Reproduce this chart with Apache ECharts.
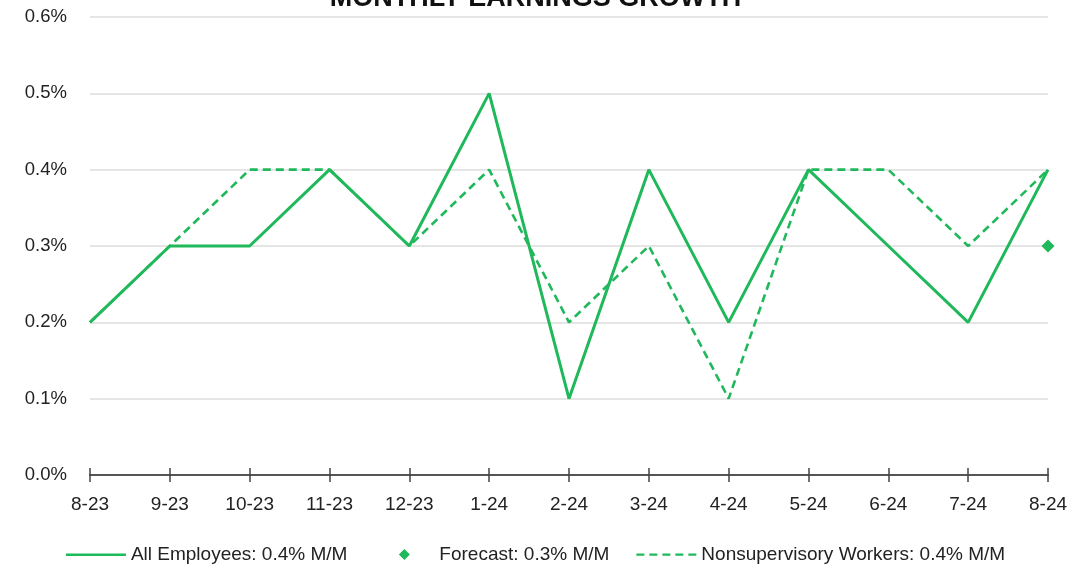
<!DOCTYPE html>
<html>
<head>
<meta charset="utf-8">
<script src="https://cdn.jsdelivr.net/npm/echarts@6/dist/echarts.min.js"></script>
<style>
  html, body { margin: 0; padding: 0; background: #fff; }
  #chart { width: 1071px; height: 572px; }
</style>
</head>
<body>
<div id="chart"></div>
<script>
// Month labels (M-YY)
const months = ['8-23', '9-23', '10-23', '11-23', '12-23', '1-24', '2-24', '3-24', '4-24', '5-24', '6-24', '7-24', '8-24'];
// Month-over-month growth, percent
const allEmployees = [0.2, 0.3, 0.3, 0.4, 0.3, 0.5, 0.1, 0.4, 0.2, 0.4, 0.3, 0.2, 0.4];
const nonsupervisory = [0.2, 0.3, 0.4, 0.4, 0.3, 0.4, 0.2, 0.3, 0.1, 0.4, 0.4, 0.3, 0.4];
const forecast = ['-', '-', '-', '-', '-', '-', '-', '-', '-', '-', '-', '-', 0.3];
// Y axis range
const yMin = 0, yMax = 0.6, yStep = 0.1;

const GREEN = '#1fb85a';
const FONT = '"Liberation Sans", Arial, sans-serif';

// Legend icons drawn inside a 60x12 box; the zero-length corner segments keep the box size
const BOX = 'M0,0L0.01,0M60,12L59.99,12';
const ICON_SOLID = 'path://' + BOX + 'M0,5H60V7.6H0Z';
const ICON_DASHED = 'path://' + BOX +
  'M0,5H8V7.2H0Z M13,5H21V7.2H13Z M26,5H34V7.2H26Z M39,5H47V7.2H39Z M52,5H60V7.2H52Z';
const ICON_DIAMOND = 'path://' + BOX + 'M30,0.5L35.5,6L30,11.5L24.5,6Z';

const chart = echarts.init(document.getElementById('chart'), null, { renderer: 'canvas' });

const axisCommon = {
  type: 'category',
  data: months,
  boundaryGap: false,
  position: 'bottom'
};

chart.setOption({
  animation: false,
  textStyle: { fontFamily: FONT },
  title: {
    text: 'MONTHLY EARNINGS GROWTH',
    left: 'center',
    top: -20,
    textStyle: { fontFamily: FONT, fontSize: 27, fontWeight: 'bold', color: '#111' }
  },
  grid: { left: 90, right: 23, top: 17, bottom: 97, containLabel: false },
  legend: {
    bottom: 3,
    left: 'center',
    itemWidth: 60,
    itemHeight: 12,
    itemGap: 27,
    textStyle: { fontFamily: FONT, fontSize: 19, color: '#222' },
    data: [
      { name: 'All Employees: 0.4% M/M', icon: ICON_SOLID },
      { name: 'Forecast: 0.3% M/M', icon: ICON_DIAMOND },
      { name: 'Nonsupervisory Workers: 0.4% M/M', icon: ICON_DASHED }
    ]
  },
  xAxis: [
    Object.assign({}, axisCommon, {
      axisLine: { show: true, lineStyle: { color: '#555', width: 2 } },
      axisTick: { show: true, inside: false, length: 7, lineStyle: { color: '#444', width: 1.5 } },
      axisLabel: { fontFamily: FONT, fontSize: 19, color: '#222', margin: 20 },
      splitLine: { show: false }
    }),
    Object.assign({}, axisCommon, {
      axisLine: { show: false },
      axisTick: { show: true, inside: true, length: 7, lineStyle: { color: '#444', width: 1.5 } },
      axisLabel: { show: false },
      splitLine: { show: false }
    })
  ],
  yAxis: {
    type: 'value',
    min: yMin,
    max: yMax,
    interval: yStep,
    axisLine: { show: false },
    axisTick: { show: false },
    axisLabel: {
      fontFamily: FONT, fontSize: 18.5, color: '#222', margin: 23,
      formatter: v => v.toFixed(1) + '%'
    },
    splitLine: { show: true, lineStyle: { color: '#dcdcdc', width: 1.5 } }
  },
  series: [
    {
      name: 'All Employees: 0.4% M/M',
      type: 'line',
      data: allEmployees,
      symbol: 'none',
      lineStyle: { color: GREEN, width: 3 },
      itemStyle: { color: GREEN },
      z: 3
    },
    {
      name: 'Forecast: 0.3% M/M',
      type: 'scatter',
      data: forecast,
      symbol: 'diamond',
      symbolSize: [13, 13],
      itemStyle: { color: GREEN, opacity: 1 },
      z: 4
    },
    {
      name: 'Nonsupervisory Workers: 0.4% M/M',
      type: 'line',
      data: nonsupervisory,
      symbol: 'none',
      lineStyle: { color: GREEN, width: 2.6, type: [8, 5] },
      itemStyle: { color: GREEN },
      z: 2
    }
  ]
});
</script>
</body>
</html>
